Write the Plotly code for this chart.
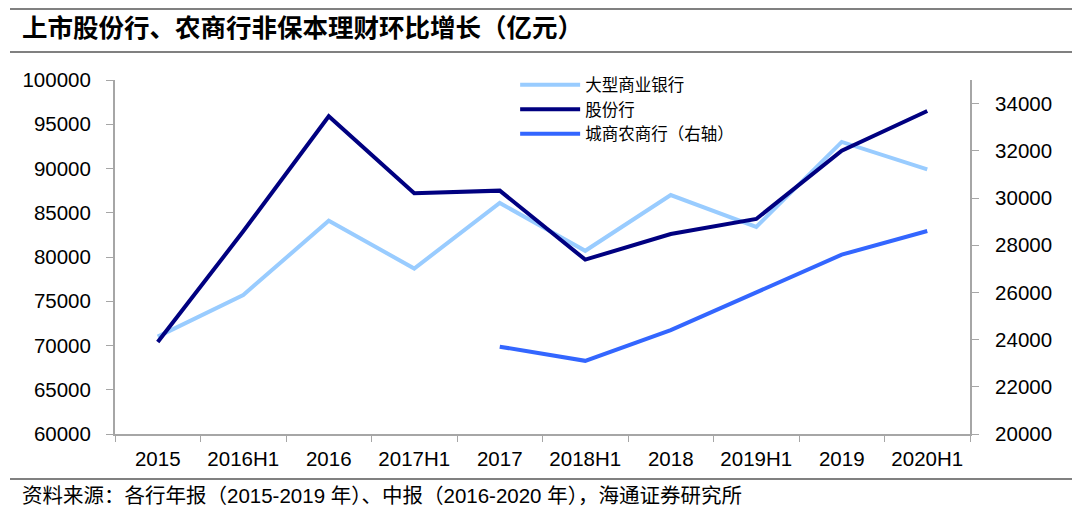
import plotly.graph_objects as go

categories = ["2015", "2016H1", "2016", "2017H1", "2017", "2018H1", "2018", "2019H1", "2019", "2020H1"]
big_banks = [71000, 75700, 84100, 78700, 86100, 80700, 87000, 83400, 93000, 89900]
joint_stock = [70400, 82900, 95900, 87200, 87500, 79700, 82600, 84300, 92000, 96500]
city_rural_cats = ["2017", "2018H1", "2018", "2019H1", "2019", "2020H1"]
city_rural = [23700, 23100, 24400, 26000, 27600, 28600]

left_ticks = list(range(60000, 100001, 5000))
right_ticks = list(range(20000, 34001, 2000))

title_text = "上市股份行、农商行非保本理财环比增长（亿元）"
source_text = "资料来源：各行年报（2015-2019 年）、中报（2016-2020 年），海通证券研究所"

CJK = "Noto Sans CJK SC"
LAT = "Liberation Sans, Arial"
MIX = "Liberation Sans, Noto Sans CJK SC"

fig = go.Figure()
fig.add_trace(go.Scatter(x=categories, y=big_banks, name="大型商业银行", mode="lines",
                         line=dict(color="#99CCFF", width=4)))
fig.add_trace(go.Scatter(x=categories, y=joint_stock, name="股份行", mode="lines",
                         line=dict(color="#000080", width=4)))
fig.add_trace(go.Scatter(x=city_rural_cats, y=city_rural, name="城商农商行（右轴）", mode="lines",
                         line=dict(color="#3366FF", width=4), yaxis="y2"))

axis_col = "#A6A6A6"
tick_font = dict(family=LAT, size=20.5, color="black")
fig.update_layout(
    width=1072, height=502,
    margin=dict(l=107, r=110, t=72, b=76),
    paper_bgcolor="white", plot_bgcolor="white",
    font=dict(family=LAT, size=19, color="black"),
    showlegend=True,
    legend=dict(x=0.468, y=1.035, xanchor="left", yanchor="top",
                font=dict(family=CJK, size=16.5, color="black"),
                bgcolor="rgba(0,0,0,0)", tracegroupgap=0, itemwidth=60),
    xaxis=dict(type="category", categoryorder="array", categoryarray=categories,
               range=[-0.5, 9.5], showgrid=False, showline=True, linecolor=axis_col, linewidth=2,
               ticks="outside", tickson="boundaries", ticklen=6, tickcolor=axis_col,
               ticklabelstandoff=5, tickfont=tick_font),
    yaxis=dict(range=[60000, 100000], tickvals=left_ticks, tickformat="d",
               showgrid=False, showline=True, linecolor=axis_col, linewidth=2,
               ticks="outside", ticklen=7, tickcolor=axis_col, zeroline=False,
               ticklabelstandoff=11, tickfont=tick_font),
    yaxis2=dict(range=[20000, 35000], tickvals=right_ticks, tickformat="d", overlaying="y", side="right",
                showgrid=False, showline=True, linecolor=axis_col, linewidth=2,
                ticks="outside", ticklen=7, tickcolor=axis_col, zeroline=False,
                ticklabelstandoff=12, tickfont=tick_font),
)

# header / footer rules (paper coords: x0 at plot left, 855 px wide; y 354 px tall)
for yy in [1.2006, 1.079, -0.127]:
    fig.add_shape(type="line", xref="paper", yref="paper", x0=-0.1228, x1=1.1228, y0=yy, y1=yy,
                  line=dict(color="#808080", width=2))

fig.add_annotation(text="<b>" + title_text + "</b>", xref="paper", yref="paper", x=-0.1111, y=1.155,
                   xanchor="left", yanchor="middle", showarrow=False,
                   font=dict(family=CJK, size=25.5, color="black"))
fig.add_annotation(text=source_text, xref="paper", yref="paper", x=-0.1111, y=-0.175,
                   xanchor="left", yanchor="middle", showarrow=False,
                   font=dict(family=MIX, size=20.5, color="black"))

fig.write_html("out.html")
